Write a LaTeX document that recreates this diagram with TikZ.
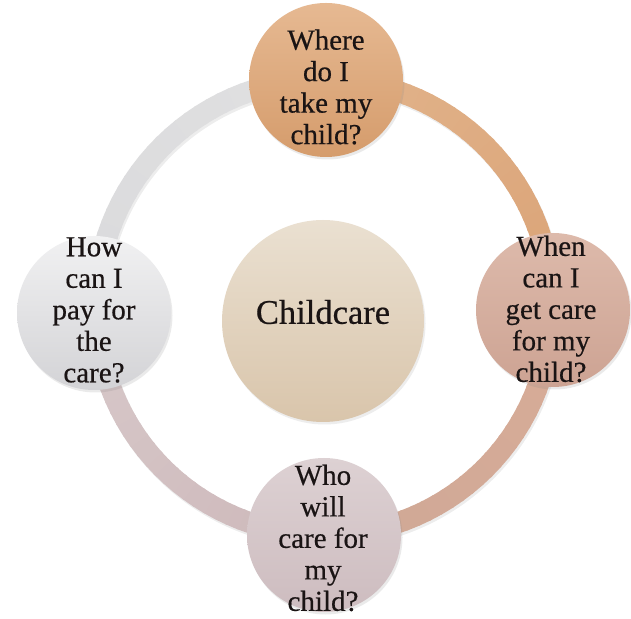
\documentclass[tikz,border=0pt]{standalone}
\usepackage{fontspec}
\setmainfont{Liberation Serif}[FakeBold=0.5]
\newfontfamily\heavyserif{Liberation Serif}[FakeBold=0.5]
\usetikzlibrary{shadows}
\definecolor{topA}{HTML}{E6B992}
\definecolor{topB}{HTML}{D59C6C}
\definecolor{rightA}{HTML}{DDBAAB}
\definecolor{rightB}{HTML}{CDA393}
\definecolor{bottomA}{HTML}{DDD1D3}
\definecolor{bottomB}{HTML}{CDBCBF}
\definecolor{leftA}{HTML}{F1F1F2}
\definecolor{leftB}{HTML}{D3D3D6}
\definecolor{centerA}{HTML}{EAE0D1}
\definecolor{centerB}{HTML}{D9C5AB}
\definecolor{ringTa}{HTML}{E2B48C}
\definecolor{ringTb}{HTML}{DAA377}
\definecolor{ringRa}{HTML}{D8AC98}
\definecolor{ringRb}{HTML}{CFA896}
\definecolor{ringBa}{HTML}{CDB8BA}
\definecolor{ringBb}{HTML}{D8C9CA}
\definecolor{ringLa}{HTML}{DADADC}
\definecolor{ringLb}{HTML}{E0E0E1}
\definecolor{txt}{HTML}{1A1414}
\tikzset{
  bubble/.style={circle, minimum size=154pt, inner sep=0pt,
    drop shadow={opacity=0.16, shadow xshift=1.5pt, shadow yshift=-2.5pt}},
  qtext/.style={align=center, text=txt, inner sep=0pt,
    font=\heavyserif\fontsize{29}{31.5}\selectfont},
  ctext/.style={text=txt, inner sep=0pt, font=\heavyserif\fontsize{34.5}{36}\selectfont}
}
\begin{document}
\begin{tikzpicture}[x=1pt,y=1pt]
\useasboundingbox (0,0) rectangle (631,618);
\fill[white] (0,0) rectangle (631,618);
\coordinate (ring) at (324,311);
% ring shadow
\draw[line width=21pt, black, opacity=0.07] ([shift={(1.5,-2.5)}]ring) circle[radius=228];
% ring with gradient quadrants
\foreach \s/\ca/\cb in {90/ringTa/ringTb, 0/ringRa/ringRb, -90/ringBa/ringBb, -180/ringLa/ringLb} {
  \foreach \i in {0,...,29} {
    \pgfmathtruncatemacro\p{100-100*\i/29}
    \pgfmathsetmacro\a{\s-3*\i}
    \pgfmathsetmacro\b{\s-3*\i-3.6}
    \draw[line width=21pt, \ca!\p!\cb] (ring) ++(\a:228) arc[start angle=\a, end angle=\b, radius=228];
  }
}
% circles
\node[bubble, top color=topA, bottom color=topB] (top) at (326,538) {};
\node[bubble, top color=rightA, bottom color=rightB] (right) at (553,308) {};
\node[bubble, top color=bottomA, bottom color=bottomB] (bottom) at (324,83) {};
\node[bubble, top color=leftA, bottom color=leftB] (left) at (94,305) {};
\node[circle, minimum size=202pt, inner sep=0pt, top color=centerA, bottom color=centerB,
  drop shadow={opacity=0.14, shadow xshift=1.5pt, shadow yshift=-2.5pt}] (center) at (323,297) {};
% texts
\node[qtext] (toptext) at (326,531) {Where\\do I\\take my\\child?};
\node[qtext] (righttext) at (551,309) {When\\can I\\get care\\for my\\child?};
\node[qtext] (lefttext) at (94,308) {How\\can I\\pay for\\the\\care?};
\node[qtext] (bottomtext) at (323,80) {Who\\will\\care for\\my\\child?};
\node[ctext] (centertext) at (323,306) {Childcare};
\end{tikzpicture}
\end{document}
